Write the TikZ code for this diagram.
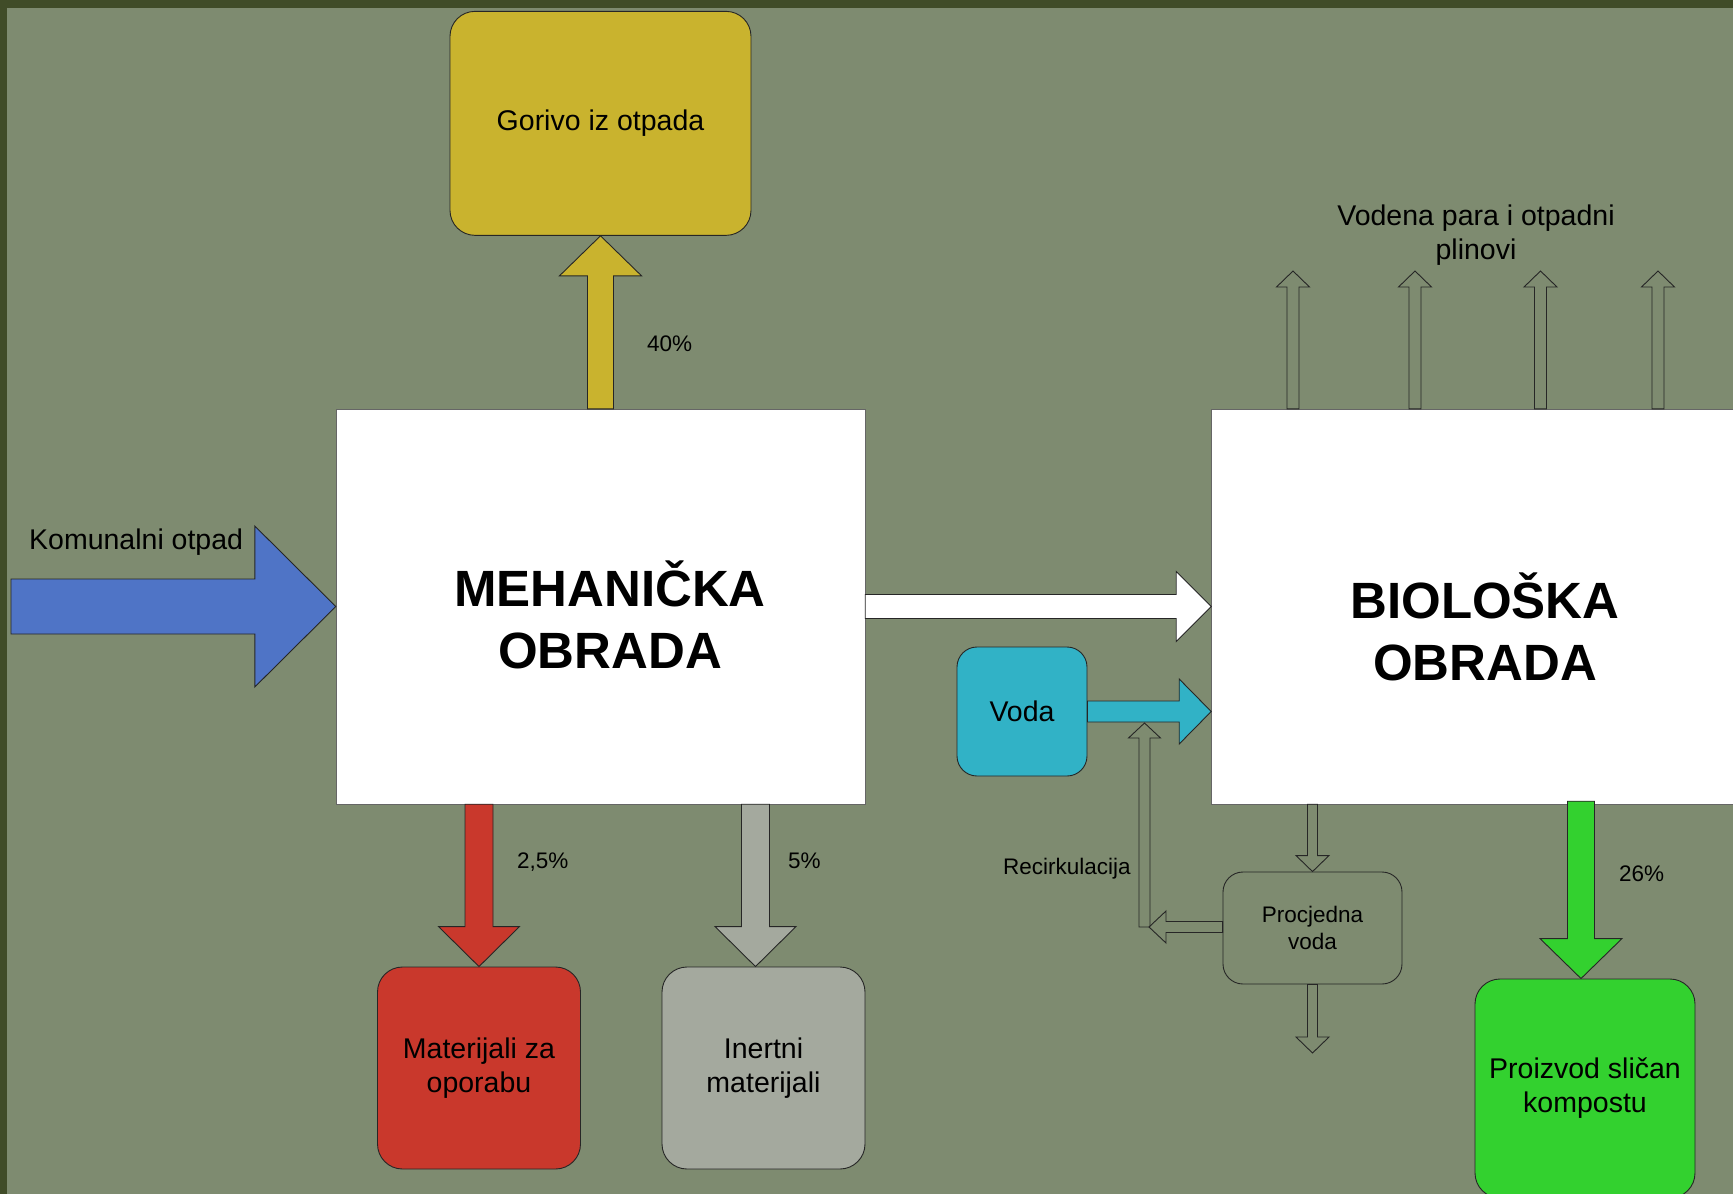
\documentclass[tikz,border=0pt]{standalone}
\usepackage{fontspec}
\setmainfont{Liberation Sans}
\usetikzlibrary{positioning,calc}

\definecolor{bgframe}{RGB}{64,76,40}
\definecolor{bgmain}{RGB}{126,139,112}
\definecolor{wastecol}{RGB}{79,116,198}
\definecolor{fuelcol}{RGB}{201,179,46}
\definecolor{recycol}{RGB}{201,56,44}
\definecolor{inertcol}{RGB}{164,169,158}
\definecolor{watercol}{RGB}{49,178,198}
\definecolor{compcol}{RGB}{51,209,47}

\newcommand{\txtsize}{\fontsize{28.5}{34}\selectfont}
\newcommand{\pctsize}{\fontsize{22.5}{27}\selectfont}
\newcommand{\headsize}{\fontsize{51}{62}\selectfont\bfseries}

% block arrows: style, from, to, shaft half width, head half width, head length
\newcommand{\fatup}[6]{\draw[#1] let \p1=(#2), \p2=(#3) in
  (\x2-#4,\y1) -- (\x2-#4,\y2-#6) -- (\x2-#5,\y2-#6) -- (\x2,\y2)
  -- (\x2+#5,\y2-#6) -- (\x2+#4,\y2-#6) -- (\x2+#4,\y1) -- cycle;}
\newcommand{\fatdown}[6]{\draw[#1] let \p1=(#2), \p2=(#3) in
  (\x2-#4,\y1) -- (\x2-#4,\y2+#6) -- (\x2-#5,\y2+#6) -- (\x2,\y2)
  -- (\x2+#5,\y2+#6) -- (\x2+#4,\y2+#6) -- (\x2+#4,\y1) -- cycle;}
\newcommand{\fatright}[6]{\draw[#1] let \p1=(#2), \p2=(#3) in
  (\x1,\y2+#4) -- (\x2-#6,\y2+#4) -- (\x2-#6,\y2+#5) -- (\x2,\y2)
  -- (\x2-#6,\y2-#5) -- (\x2-#6,\y2-#4) -- (\x1,\y2-#4) -- cycle;}
\newcommand{\fatleft}[6]{\draw[#1] let \p1=(#2), \p2=(#3) in
  (\x1,\y2+#4) -- (\x2+#6,\y2+#4) -- (\x2+#6,\y2+#5) -- (\x2,\y2)
  -- (\x2+#6,\y2-#5) -- (\x2+#6,\y2-#4) -- (\x1,\y2-#4) -- cycle;}

\begin{document}
\begin{tikzpicture}[
    x=1pt, y=-1pt,
    stage/.style={rectangle, draw=black!60, fill=white, minimum height=395pt, inner sep=0pt},
    heading/.style={align=center, font=\headsize, inner sep=0pt},
    product/.style={rectangle, draw=black!85, line width=0.9pt, rounded corners=25pt, minimum width=203pt, minimum height=202pt, align=center, font=\txtsize, inner sep=0pt},
    water/.style={rectangle, draw=black!85, line width=0.9pt, rounded corners=20pt, align=center, inner sep=0pt},
    fat/.style={draw=black!85, line width=0.9pt},
    pct/.style={anchor=base west, inner sep=0pt, font=\pctsize}
]

% Background
\useasboundingbox (0,0) rectangle (1733,1194);
\clip (0,0) rectangle (1733,1194);
\fill[bgframe] (0,0) rectangle (1733,1194);
\fill[bgmain] (7,8) rectangle (1733,1194);

% Main stages
\node[stage, minimum width=529pt] (meh) at (600.5,606.5) {};
\node[heading] (mehlbl) at (610,614.5) {MEHANIČKA\\OBRADA};
\node[stage, minimum width=548pt, right=346pt of meh] (bio) {};
\node[heading] (biolbl) at (1485,626.5) {BIOLOŠKA\\OBRADA};

% Outputs
\node[product, fill=fuelcol, minimum width=301pt, minimum height=224pt, above=173pt of meh] (fuel) {\raisebox{-2pt}{Gorivo iz otpada}};
\node[product, fill=recycol] (recy) at (479,1068) {Materijali za\\oporabu};
\node[product, fill=inertcol] (inert) at (763.5,1068) {Inertni\\materijali};
\node[product, fill=compcol, minimum width=220pt, minimum height=219pt] (comp) at (1585,1088.5) {Proizvod sličan\\kompostu};

% Water
\node[water, fill=watercol, minimum width=130pt, minimum height=129pt, font=\txtsize] (voda) at (1022,711.5) {Voda};
\node[water, minimum width=179pt, minimum height=112pt, font=\pctsize] (leach) at (1312.5,928) {Procjedna\\voda};

% Free ends
\coordinate (kin) at (11,606.5);
\coordinate (leachout) at (1312.5,1053);
\coordinate (rec) at (1149,927);
\coordinate (rectip) at (1144.5,723);
\foreach \i/\xx in {1/1293,2/1415,3/1540.5,4/1658}
  \coordinate (vap\i) at (\xx,271);

% Arrows
\fatright{fat, fill=wastecol}{kin}{meh.west}{27.5pt}{80.5pt}{81pt}
\fatup{fat, fill=fuelcol}{meh.north}{fuel.south}{13pt}{41pt}{40pt}
\fatdown{fat, fill=recycol}{meh.south}{recy.north}{14pt}{40.5pt}{40pt}
\fatdown{fat, fill=inertcol}{meh.south}{[xshift=-8pt]inert.north}{14pt}{40.5pt}{40pt}
\fatright{fat, fill=white}{meh.east}{bio.west}{12pt}{35pt}{35pt}
\fatright{fat, fill=watercol}{voda.east}{bio.west |- voda.east}{10.5pt}{32.5pt}{32pt}
\foreach \i in {1,...,4}{
  \fatup{fat}{bio.north}{vap\i}{6pt}{16.5pt}{16pt}
}
\fatdown{fat}{bio.south}{leach.north}{5pt}{16.5pt}{16pt}
\fatdown{fat}{leach.south}{leachout}{5pt}{16.5pt}{16pt}
\fatleft{fat}{leach.west}{rec}{5.5pt}{16pt}{17pt}
\fatup{fat}{rec}{rectip}{5.5pt}{16pt}{15pt}
\fatdown{fat, fill=compcol}{[yshift=3pt]bio.south}{[xshift=-4pt]comp.north}{13.5pt}{41pt}{40pt}

% Labels
\node[anchor=base west, inner sep=0pt, font=\txtsize] (komlbl) at (29,549) {Komunalni otpad};
\node[pct] (p40) at (647,351) {40\%};
\node[pct] (p25) at (517,868) {2,5\%};
\node[pct] (p5) at (788,868) {5\%};
\node[pct] (p26) at (1619,881) {26\%};
\node[pct] (reclbl) at (1003,874) {Recirkulacija};
\node[align=center, font=\txtsize, inner sep=0pt] (vaplbl) at (1476,235) {Vodena para i otpadni\\plinovi};

\end{tikzpicture}
\end{document}
